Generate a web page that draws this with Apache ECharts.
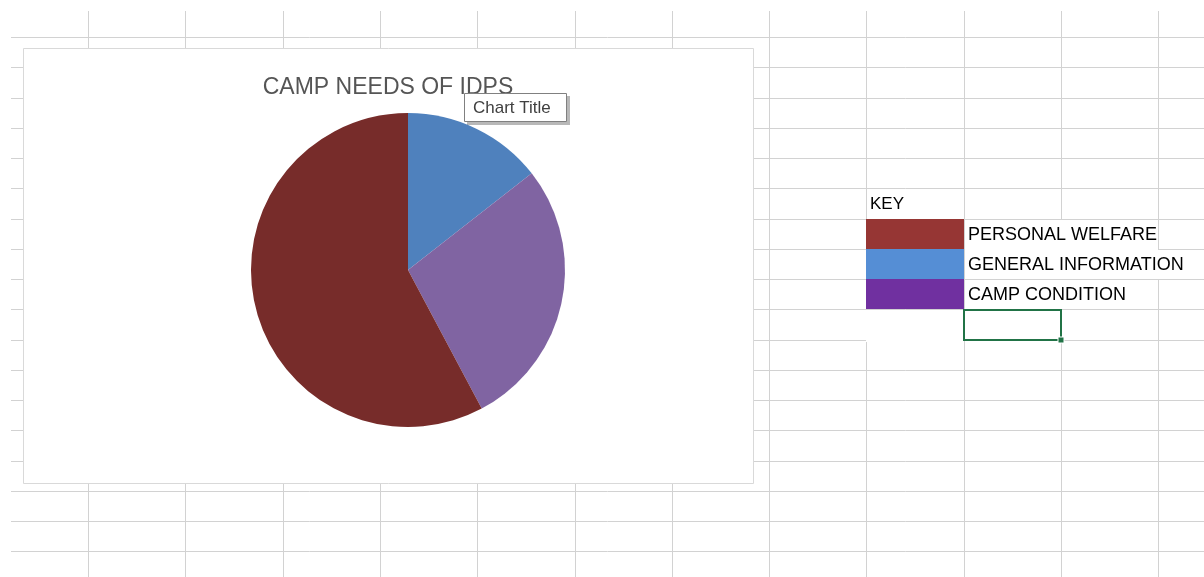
<!DOCTYPE html>
<html>
<head>
<meta charset="utf-8">
<title>Camp needs of IDPs</title>
<script src="https://cdn.jsdelivr.net/npm/echarts/dist/echarts.min.js"></script>
<style>
  html, body { margin: 0; padding: 0; background: #fff; }
  #main { width: 1204px; height: 577px; }
</style>
</head>
<body>
<div id="main"></div>
<script>
// pie slices, clockwise from 12 o'clock
const categories = ["GENERAL INFORMATION", "CAMP CONDITION", "PERSONAL WELFARE"];
const values = [13, 25, 52];
const sliceColors = ["#4f81bd", "#8064a2", "#772c2a"];

// the KEY typed into cells beside the chart
const keyLabels = ["PERSONAL WELFARE", "GENERAL INFORMATION", "CAMP CONDITION"];
const keyColors = ["#963634", "#558ed5", "#7030a0"];

const chart = echarts.init(document.getElementById("main"));

// sheet gridlines
const colX = [];
for (let i = 0; i < 12; i++) colX.push(Math.round(88 + i * 97.3));
const rowY = [];
for (let i = 0; i < 18; i++) rowY.push(Math.round(37 + i * 30.25));

const gridColor = "#d2d2d2";
const els = [];

colX.forEach(function (x) {
  els.push({ type: "line", z: 0, silent: true,
    shape: { x1: x + 0.5, y1: 11, x2: x + 0.5, y2: 577 },
    style: { stroke: gridColor, lineWidth: 1 } });
});
rowY.forEach(function (y) {
  els.push({ type: "line", z: 0, silent: true,
    shape: { x1: 11, y1: y + 0.5, x2: 1204, y2: y + 0.5 },
    style: { stroke: gridColor, lineWidth: 1 } });
});

function cover(x, y, w, h) {
  els.push({ type: "rect", z: 1, silent: true,
    shape: { x: x, y: y, width: w, height: h }, style: { fill: "#fff" } });
}
// text overflowing into the next cells hides gridlines
cover(colX[9] + 1, rowY[6] + 1, colX[11] - colX[9] - 1, rowY[7] - rowY[6] + 1);
cover(colX[9] + 1, rowY[7] + 1, 1204 - colX[9], rowY[8] - rowY[7] - 1);
cover(colX[9] + 1, rowY[8] + 1, colX[11] - colX[9] - 1, rowY[9] - rowY[8] - 1);
cover(colX[8], rowY[9] + 1, colX[9] - colX[8], rowY[10] - rowY[9] + 1);

// chart area
els.push({ type: "rect", z: 1, silent: true,
  shape: { x: 23.5, y: 48.5, width: 730, height: 435 },
  style: { fill: "#fff", stroke: "#d9d9d9", lineWidth: 1 } });

// key
els.push({ type: "text", z: 3, silent: true, x: 870, y: (rowY[5] + rowY[6]) / 2 + 1,
  style: { text: "KEY", fontSize: 17, fontFamily: "Liberation Sans", fill: "#000",
    verticalAlign: "middle" } });
keyLabels.forEach(function (label, i) {
  els.push({ type: "rect", z: 3, silent: true,
    shape: { x: colX[8], y: rowY[6 + i], width: colX[9] - colX[8], height: rowY[7 + i] - rowY[6 + i] },
    style: { fill: keyColors[i] } });
  els.push({ type: "text", z: 3, silent: true, x: colX[9] + 4, y: (rowY[6 + i] + rowY[7 + i]) / 2 + 1,
    style: { text: label, fontSize: 18, fontFamily: "Liberation Sans", fill: "#000",
      verticalAlign: "middle" } });
});

// selected cell
els.push({ type: "rect", z: 4, silent: true,
  shape: { x: colX[9], y: rowY[9] + 1, width: colX[10] - colX[9], height: rowY[10] - rowY[9] - 1 },
  style: { fill: "none", stroke: "#217346", lineWidth: 2 } });
els.push({ type: "rect", z: 4, silent: true,
  shape: { x: colX[10] - 3, y: rowY[10] - 3, width: 6, height: 6 },
  style: { fill: "#217346", stroke: "#fff", lineWidth: 1 } });

// "Chart Title" hover tip
els.push({ type: "rect", z: 10, silent: true,
  shape: { x: 467, y: 96, width: 103, height: 29 },
  style: { fill: "rgba(0,0,0,0.28)" } });
els.push({ type: "rect", z: 11, silent: true,
  shape: { x: 464.5, y: 93.5, width: 102, height: 28 },
  style: { fill: "#fff", stroke: "#808080", lineWidth: 1 } });
els.push({ type: "text", z: 12, silent: true, x: 473, y: 108,
  style: { text: "Chart Title", fontSize: 17, fontFamily: "Liberation Sans", fill: "#404040",
    verticalAlign: "middle" } });

chart.setOption({
  animation: false,
  title: {
    text: "CAMP NEEDS OF IDPS",
    left: 383,
    top: 71,
    textAlign: "center",
    textStyle: { fontSize: 23, fontWeight: "normal", color: "#555", fontFamily: "Liberation Sans" }
  },
  graphic: { elements: els },
  series: [
    {
      type: "pie",
      center: [408, 270],
      radius: 157,
      startAngle: 90,
      clockwise: true,
      silent: true,
      label: { show: false },
      labelLine: { show: false },
      itemStyle: { borderWidth: 0 },
      data: categories.map(function (name, i) {
        return { name: name, value: values[i], itemStyle: { color: sliceColors[i] } };
      })
    }
  ]
});
</script>
</body>
</html>
